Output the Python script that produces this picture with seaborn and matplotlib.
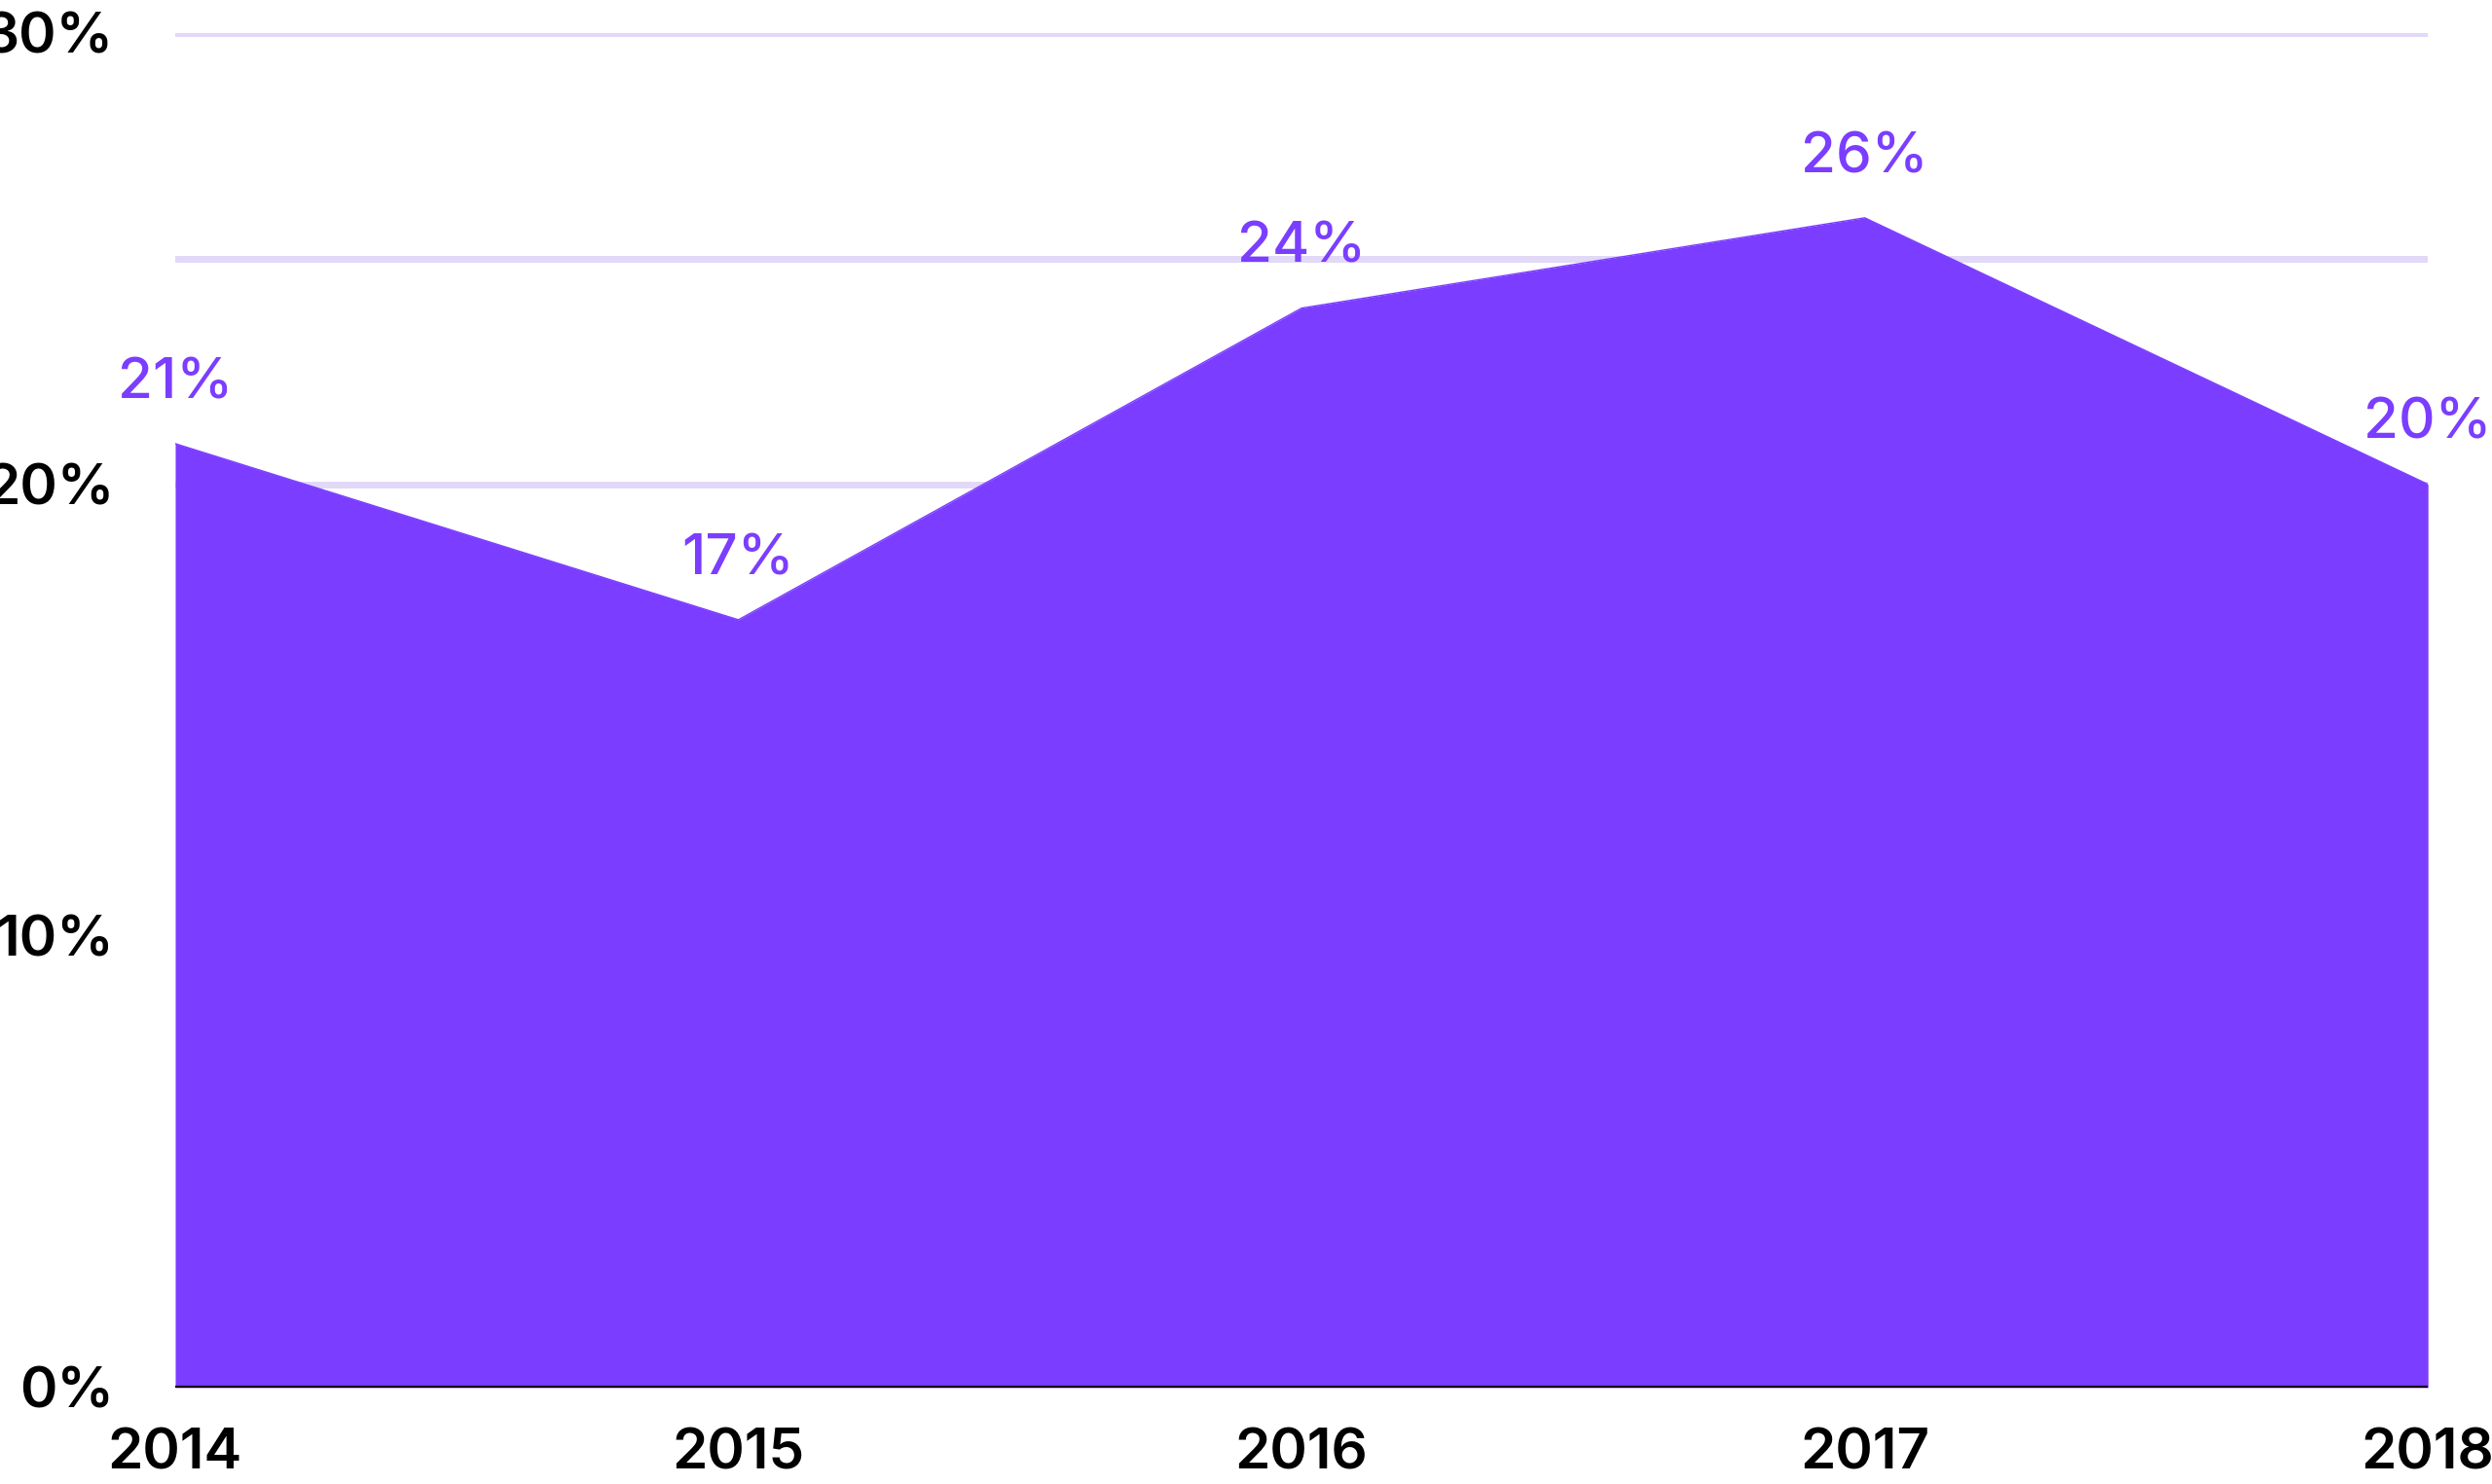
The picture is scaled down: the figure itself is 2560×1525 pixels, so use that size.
import matplotlib
matplotlib.use("Agg")
import matplotlib.pyplot as plt
import seaborn as sns
import pandas as pd

years = [2014, 2015, 2016, 2017, 2018]
values = [20.9, 17.0, 23.9, 25.9, 20.0]
labels = ["21%", "17%", "24%", "26%", "20%"]
yticks = [0, 10, 20, 30]
ytick_labels = ["0%", "10%", "20%", "30%"]

sns.set_theme(style="white")
plt.rcParams['font.family'] = ['Inter', 'DejaVu Sans']
purple = "#7B3DFF"

fig = plt.figure(figsize=(25.6, 15.25), dpi=100)
ax = fig.add_axes([0.0703, 0.065, 0.904, 0.913])
df = pd.DataFrame({"year": years, "value": values})

for g in [25, 20, 30]:
    ax.axhline(g, color="#E2D8F8", lw=5, zorder=0)
ax.fill_between(df["year"], df["value"], 0, color=purple, lw=0, zorder=2)
sns.lineplot(data=df, x="year", y="value", ax=ax, color=purple, lw=1, zorder=3)
ax.axhline(0, color="black", lw=3, zorder=4)

for x, v, t in zip(years, values, labels):
    ax.text(x, v + 0.75, t, color=purple, fontsize=42, fontweight="medium",
            ha="center", va="bottom")

ax.set_xlim(2014, 2018)
ax.set_ylim(0, 30)
ax.set_xticks(years)
ax.set_xticklabels([str(y) for y in years], fontsize=42, fontweight="semibold", color="black")
ax.set_yticks(yticks)
ax.set_yticklabels(ytick_labels, fontsize=42, fontweight="semibold", color="black")
ax.tick_params(axis="x", length=0, pad=30)
ax.tick_params(axis="y", length=0, pad=45)
ax.set_xlabel("")
ax.set_ylabel("")
for s in ax.spines.values():
    s.set_visible(False)
fig.savefig("out.png", dpi=100)
